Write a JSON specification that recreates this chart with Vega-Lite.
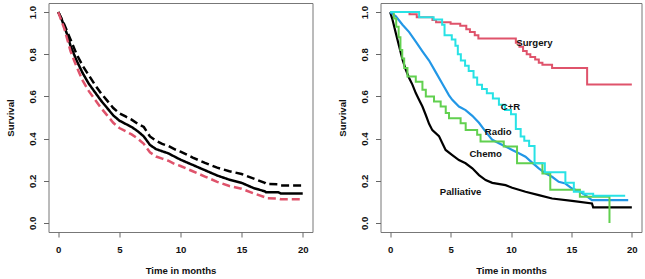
{
  "$schema": "https://vega.github.io/schema/vega-lite/v6.json",
  "padding": {"left": 4.5, "top": 2, "right": 3, "bottom": 0},
  "background": "white",
  "bounds": "flush",
  "spacing": 68,
  "resolve": {"scale": {"color": "independent", "strokeDash": "independent"}},
  "datasets": {
    "overall": [
      {"t": 0, "s": 1.0, "curve": "Estimate"}, {"t": 0.25, "s": 0.97, "curve": "Estimate"}, {"t": 0.5, "s": 0.93, "curve": "Estimate"}, {"t": 0.75, "s": 0.89, "curve": "Estimate"}, {"t": 1, "s": 0.84, "curve": "Estimate"}, {"t": 1.5, "s": 0.77, "curve": "Estimate"}, {"t": 2, "s": 0.71, "curve": "Estimate"}, {"t": 2.5, "s": 0.66, "curve": "Estimate"}, {"t": 3, "s": 0.62, "curve": "Estimate"}, {"t": 3.5, "s": 0.58, "curve": "Estimate"}, {"t": 4, "s": 0.545, "curve": "Estimate"}, {"t": 4.5, "s": 0.51, "curve": "Estimate"}, {"t": 5, "s": 0.485, "curve": "Estimate"}, {"t": 5.5, "s": 0.47, "curve": "Estimate"}, {"t": 6, "s": 0.455, "curve": "Estimate"}, {"t": 6.5, "s": 0.435, "curve": "Estimate"}, {"t": 7, "s": 0.41, "curve": "Estimate"}, {"t": 7.5, "s": 0.37, "curve": "Estimate"}, {"t": 8, "s": 0.35, "curve": "Estimate"}, {"t": 8.5, "s": 0.34, "curve": "Estimate"}, {"t": 9, "s": 0.33, "curve": "Estimate"}, {"t": 9.5, "s": 0.315, "curve": "Estimate"}, {"t": 10, "s": 0.3, "curve": "Estimate"}, {"t": 11, "s": 0.275, "curve": "Estimate"}, {"t": 12, "s": 0.25, "curve": "Estimate"}, {"t": 13, "s": 0.225, "curve": "Estimate"}, {"t": 14, "s": 0.205, "curve": "Estimate"}, {"t": 15, "s": 0.19, "curve": "Estimate"}, {"t": 16, "s": 0.165, "curve": "Estimate"}, {"t": 16.9, "s": 0.15, "curve": "Estimate"}, {"t": 17, "s": 0.145, "curve": "Estimate"}, {"t": 18, "s": 0.145, "curve": "Estimate"}, {"t": 18.2, "s": 0.14, "curve": "Estimate"}, {"t": 20, "s": 0.14, "curve": "Estimate"},
      {"t": 0, "s": 1.0, "curve": "Upper"}, {"t": 0.5, "s": 0.94, "curve": "Upper"}, {"t": 1, "s": 0.87, "curve": "Upper"}, {"t": 1.5, "s": 0.8, "curve": "Upper"}, {"t": 2, "s": 0.745, "curve": "Upper"}, {"t": 2.5, "s": 0.7, "curve": "Upper"}, {"t": 3, "s": 0.655, "curve": "Upper"}, {"t": 3.5, "s": 0.615, "curve": "Upper"}, {"t": 4, "s": 0.58, "curve": "Upper"}, {"t": 4.5, "s": 0.545, "curve": "Upper"}, {"t": 5, "s": 0.52, "curve": "Upper"}, {"t": 5.5, "s": 0.505, "curve": "Upper"}, {"t": 6, "s": 0.49, "curve": "Upper"}, {"t": 6.5, "s": 0.47, "curve": "Upper"}, {"t": 7, "s": 0.455, "curve": "Upper"}, {"t": 7.5, "s": 0.41, "curve": "Upper"}, {"t": 8, "s": 0.39, "curve": "Upper"}, {"t": 8.5, "s": 0.375, "curve": "Upper"}, {"t": 9, "s": 0.365, "curve": "Upper"}, {"t": 9.5, "s": 0.35, "curve": "Upper"}, {"t": 10, "s": 0.338, "curve": "Upper"}, {"t": 11, "s": 0.31, "curve": "Upper"}, {"t": 12, "s": 0.285, "curve": "Upper"}, {"t": 13, "s": 0.262, "curve": "Upper"}, {"t": 14, "s": 0.245, "curve": "Upper"}, {"t": 15, "s": 0.232, "curve": "Upper"}, {"t": 16, "s": 0.21, "curve": "Upper"}, {"t": 16.9, "s": 0.19, "curve": "Upper"}, {"t": 17, "s": 0.185, "curve": "Upper"}, {"t": 18, "s": 0.183, "curve": "Upper"}, {"t": 18.2, "s": 0.178, "curve": "Upper"}, {"t": 20, "s": 0.178, "curve": "Upper"},
      {"t": 0, "s": 1.0, "curve": "Lower"}, {"t": 0.5, "s": 0.92, "curve": "Lower"}, {"t": 1, "s": 0.815, "curve": "Lower"}, {"t": 1.5, "s": 0.74, "curve": "Lower"}, {"t": 2, "s": 0.675, "curve": "Lower"}, {"t": 2.5, "s": 0.625, "curve": "Lower"}, {"t": 3, "s": 0.585, "curve": "Lower"}, {"t": 3.5, "s": 0.545, "curve": "Lower"}, {"t": 4, "s": 0.51, "curve": "Lower"}, {"t": 4.5, "s": 0.475, "curve": "Lower"}, {"t": 5, "s": 0.45, "curve": "Lower"}, {"t": 5.5, "s": 0.435, "curve": "Lower"}, {"t": 6, "s": 0.42, "curve": "Lower"}, {"t": 6.5, "s": 0.4, "curve": "Lower"}, {"t": 7, "s": 0.375, "curve": "Lower"}, {"t": 7.5, "s": 0.335, "curve": "Lower"}, {"t": 8, "s": 0.315, "curve": "Lower"}, {"t": 8.5, "s": 0.305, "curve": "Lower"}, {"t": 9, "s": 0.295, "curve": "Lower"}, {"t": 9.5, "s": 0.28, "curve": "Lower"}, {"t": 10, "s": 0.27, "curve": "Lower"}, {"t": 11, "s": 0.245, "curve": "Lower"}, {"t": 12, "s": 0.22, "curve": "Lower"}, {"t": 13, "s": 0.195, "curve": "Lower"}, {"t": 14, "s": 0.175, "curve": "Lower"}, {"t": 15, "s": 0.162, "curve": "Lower"}, {"t": 16, "s": 0.14, "curve": "Lower"}, {"t": 16.9, "s": 0.122, "curve": "Lower"}, {"t": 17, "s": 0.117, "curve": "Lower"}, {"t": 18, "s": 0.115, "curve": "Lower"}, {"t": 18.2, "s": 0.112, "curve": "Lower"}, {"t": 20, "s": 0.112, "curve": "Lower"}
    ],
    "smooth": [
      {"t": 0, "s": 1.0, "group": "Palliative"}, {"t": 0.19, "s": 0.965, "group": "Palliative"}, {"t": 0.47, "s": 0.9, "group": "Palliative"}, {"t": 0.74, "s": 0.838, "group": "Palliative"}, {"t": 1.02, "s": 0.775, "group": "Palliative"}, {"t": 1.29, "s": 0.727, "group": "Palliative"}, {"t": 1.57, "s": 0.687, "group": "Palliative"}, {"t": 1.84, "s": 0.656, "group": "Palliative"}, {"t": 2.12, "s": 0.616, "group": "Palliative"}, {"t": 2.39, "s": 0.584, "group": "Palliative"}, {"t": 2.67, "s": 0.552, "group": "Palliative"}, {"t": 2.94, "s": 0.513, "group": "Palliative"}, {"t": 3.22, "s": 0.47, "group": "Palliative"}, {"t": 3.49, "s": 0.44, "group": "Palliative"}, {"t": 4.04, "s": 0.412, "group": "Palliative"}, {"t": 4.32, "s": 0.378, "group": "Palliative"}, {"t": 4.59, "s": 0.346, "group": "Palliative"}, {"t": 5.14, "s": 0.322, "group": "Palliative"}, {"t": 5.69, "s": 0.298, "group": "Palliative"}, {"t": 6.24, "s": 0.283, "group": "Palliative"}, {"t": 6.8, "s": 0.259, "group": "Palliative"}, {"t": 7.35, "s": 0.227, "group": "Palliative"}, {"t": 7.9, "s": 0.203, "group": "Palliative"}, {"t": 8.45, "s": 0.19, "group": "Palliative"}, {"t": 9.55, "s": 0.179, "group": "Palliative"}, {"t": 10.1, "s": 0.167, "group": "Palliative"}, {"t": 11.2, "s": 0.148, "group": "Palliative"}, {"t": 12.3, "s": 0.132, "group": "Palliative"}, {"t": 13.4, "s": 0.116, "group": "Palliative"}, {"t": 15.05, "s": 0.105, "group": "Palliative"}, {"t": 16.7, "s": 0.092, "group": "Palliative"}, {"t": 16.8, "s": 0.074, "group": "Palliative"}, {"t": 20, "s": 0.074, "group": "Palliative"},
      {"t": 0, "s": 1.0, "group": "Radio"}, {"t": 0.47, "s": 0.98, "group": "Radio"}, {"t": 1.02, "s": 0.94, "group": "Radio"}, {"t": 1.57, "s": 0.905, "group": "Radio"}, {"t": 2.12, "s": 0.86, "group": "Radio"}, {"t": 2.67, "s": 0.814, "group": "Radio"}, {"t": 3.22, "s": 0.77, "group": "Radio"}, {"t": 3.77, "s": 0.715, "group": "Radio"}, {"t": 4.32, "s": 0.66, "group": "Radio"}, {"t": 4.87, "s": 0.605, "group": "Radio"}, {"t": 5.14, "s": 0.584, "group": "Radio"}, {"t": 5.69, "s": 0.552, "group": "Radio"}, {"t": 6.24, "s": 0.535, "group": "Radio"}, {"t": 6.8, "s": 0.508, "group": "Radio"}, {"t": 7.35, "s": 0.475, "group": "Radio"}, {"t": 7.9, "s": 0.433, "group": "Radio"}, {"t": 8.45, "s": 0.394, "group": "Radio"}, {"t": 9.0, "s": 0.378, "group": "Radio"}, {"t": 9.55, "s": 0.362, "group": "Radio"}, {"t": 10.1, "s": 0.346, "group": "Radio"}, {"t": 10.65, "s": 0.33, "group": "Radio"}, {"t": 11.2, "s": 0.314, "group": "Radio"}, {"t": 11.75, "s": 0.286, "group": "Radio"}, {"t": 12.3, "s": 0.259, "group": "Radio"}, {"t": 12.85, "s": 0.235, "group": "Radio"}, {"t": 13.4, "s": 0.219, "group": "Radio"}, {"t": 13.95, "s": 0.195, "group": "Radio"}, {"t": 14.5, "s": 0.187, "group": "Radio"}, {"t": 15.05, "s": 0.163, "group": "Radio"}, {"t": 15.6, "s": 0.152, "group": "Radio"}, {"t": 16.15, "s": 0.132, "group": "Radio"}, {"t": 16.7, "s": 0.108, "group": "Radio"}, {"t": 19.7, "s": 0.108, "group": "Radio"}
    ],
    "steps": [
      {"t": 0, "s": 1.0, "group": "Surgery"}, {"t": 1.6, "s": 0.99, "group": "Surgery"}, {"t": 2.2, "s": 0.975, "group": "Surgery"}, {"t": 3.5, "s": 0.962, "group": "Surgery"}, {"t": 3.8, "s": 0.952, "group": "Surgery"}, {"t": 5.0, "s": 0.945, "group": "Surgery"}, {"t": 5.8, "s": 0.935, "group": "Surgery"}, {"t": 6.3, "s": 0.918, "group": "Surgery"}, {"t": 6.6, "s": 0.905, "group": "Surgery"}, {"t": 7.0, "s": 0.89, "group": "Surgery"}, {"t": 7.3, "s": 0.875, "group": "Surgery"}, {"t": 10.4, "s": 0.855, "group": "Surgery"}, {"t": 10.7, "s": 0.835, "group": "Surgery"}, {"t": 11.0, "s": 0.815, "group": "Surgery"}, {"t": 11.3, "s": 0.8, "group": "Surgery"}, {"t": 11.6, "s": 0.787, "group": "Surgery"}, {"t": 12.0, "s": 0.775, "group": "Surgery"}, {"t": 12.3, "s": 0.76, "group": "Surgery"}, {"t": 12.6, "s": 0.75, "group": "Surgery"}, {"t": 13.4, "s": 0.735, "group": "Surgery"}, {"t": 16.3, "s": 0.656, "group": "Surgery"}, {"t": 20.0, "s": 0.656, "group": "Surgery"},
      {"t": 0, "s": 1.0, "group": "Chemo"}, {"t": 0.3, "s": 0.97, "group": "Chemo"}, {"t": 0.5, "s": 0.93, "group": "Chemo"}, {"t": 0.7, "s": 0.88, "group": "Chemo"}, {"t": 0.85, "s": 0.82, "group": "Chemo"}, {"t": 1.0, "s": 0.78, "group": "Chemo"}, {"t": 1.16, "s": 0.735, "group": "Chemo"}, {"t": 1.43, "s": 0.695, "group": "Chemo"}, {"t": 2.12, "s": 0.67, "group": "Chemo"}, {"t": 2.67, "s": 0.632, "group": "Chemo"}, {"t": 2.95, "s": 0.6, "group": "Chemo"}, {"t": 3.63, "s": 0.576, "group": "Chemo"}, {"t": 4.18, "s": 0.552, "group": "Chemo"}, {"t": 4.6, "s": 0.521, "group": "Chemo"}, {"t": 4.87, "s": 0.497, "group": "Chemo"}, {"t": 5.83, "s": 0.473, "group": "Chemo"}, {"t": 6.25, "s": 0.441, "group": "Chemo"}, {"t": 7.2, "s": 0.418, "group": "Chemo"}, {"t": 7.48, "s": 0.386, "group": "Chemo"}, {"t": 9.4, "s": 0.362, "group": "Chemo"}, {"t": 10.5, "s": 0.283, "group": "Chemo"}, {"t": 12.6, "s": 0.235, "group": "Chemo"}, {"t": 13.25, "s": 0.157, "group": "Chemo"}, {"t": 15.7, "s": 0.124, "group": "Chemo"}, {"t": 18.15, "s": 0.0, "group": "Chemo"},
      {"t": 0, "s": 1.0, "group": "C+R"}, {"t": 2.4, "s": 0.975, "group": "C+R"}, {"t": 3.6, "s": 0.965, "group": "C+R"}, {"t": 4.3, "s": 0.94, "group": "C+R"}, {"t": 4.5, "s": 0.89, "group": "C+R"}, {"t": 5.1, "s": 0.87, "group": "C+R"}, {"t": 5.4, "s": 0.84, "group": "C+R"}, {"t": 5.6, "s": 0.8, "group": "C+R"}, {"t": 5.85, "s": 0.77, "group": "C+R"}, {"t": 6.2, "s": 0.745, "group": "C+R"}, {"t": 6.5, "s": 0.72, "group": "C+R"}, {"t": 6.9, "s": 0.69, "group": "C+R"}, {"t": 7.2, "s": 0.655, "group": "C+R"}, {"t": 7.6, "s": 0.635, "group": "C+R"}, {"t": 8.0, "s": 0.615, "group": "C+R"}, {"t": 8.5, "s": 0.59, "group": "C+R"}, {"t": 9.0, "s": 0.56, "group": "C+R"}, {"t": 9.5, "s": 0.535, "group": "C+R"}, {"t": 10.0, "s": 0.515, "group": "C+R"}, {"t": 10.4, "s": 0.445, "group": "C+R"}, {"t": 10.8, "s": 0.41, "group": "C+R"}, {"t": 11.1, "s": 0.39, "group": "C+R"}, {"t": 11.5, "s": 0.365, "group": "C+R"}, {"t": 11.95, "s": 0.283, "group": "C+R"}, {"t": 12.8, "s": 0.24, "group": "C+R"}, {"t": 14.5, "s": 0.19, "group": "C+R"}, {"t": 15.2, "s": 0.148, "group": "C+R"}, {"t": 16.0, "s": 0.138, "group": "C+R"}, {"t": 16.8, "s": 0.129, "group": "C+R"}, {"t": 19.45, "s": 0.129, "group": "C+R"}
    ],
    "labels": [
      {"t": 11.94, "s": 0.851, "label": "Surgery"},
      {"t": 9.96, "s": 0.55, "label": "C+R"},
      {"t": 8.94, "s": 0.429, "label": "Radio"},
      {"t": 7.9, "s": 0.327, "label": "Chemo"},
      {"t": 5.83, "s": 0.146, "label": "Palliative"}
    ]
  },
  "hconcat": [
    {
      "width": 264,
      "height": 229,
      "data": {"name": "overall"},
      "mark": {"type": "line", "strokeWidth": 2.5},
      "encoding": {
        "x": {"field": "t", "type": "quantitative", "scale": {"domain": [-0.8, 20.8], "nice": false, "zero": false},
              "axis": {"values": [0, 5, 10, 15, 20], "title": "Time in months"}},
        "y": {"field": "s", "type": "quantitative", "scale": {"domain": [-0.043, 1.043], "nice": false, "zero": false},
              "axis": {"values": [0, 0.2, 0.4, 0.6, 0.8, 1.0], "format": ".1f", "title": "Survival", "labelAngle": 270, "labelPadding": 6, "titlePadding": 12.5}},
        "color": {"field": "curve", "type": "nominal", "scale": {"domain": ["Estimate", "Upper", "Lower"], "range": ["#000000", "#000000", "#DF536B"]}, "legend": null},
        "strokeDash": {"field": "curve", "type": "nominal", "scale": {"domain": ["Estimate", "Upper", "Lower"], "range": [[1, 0], [8, 4], [8, 4]]}, "legend": null}
      }
    },
    {
      "width": 261,
      "height": 229,
      "encoding": {
        "x": {"field": "t", "type": "quantitative", "scale": {"domain": [-0.8, 20.8], "nice": false, "zero": false},
              "axis": {"values": [0, 5, 10, 15, 20], "title": "Time in months"}},
        "y": {"field": "s", "type": "quantitative", "scale": {"domain": [-0.043, 1.043], "nice": false, "zero": false},
              "axis": {"values": [0, 0.2, 0.4, 0.6, 0.8, 1.0], "format": ".1f", "title": "Survival", "labelAngle": 270, "labelPadding": 6, "titlePadding": 12.5}}
      },
      "layer": [
        {
          "data": {"name": "smooth"},
          "mark": {"type": "line", "strokeWidth": 2.2},
          "encoding": {
            "color": {"field": "group", "type": "nominal", "scale": {"domain": ["Palliative", "Surgery", "Chemo", "Radio", "C+R"], "range": ["#000000", "#DF536B", "#61D04F", "#2297E6", "#28E2E5"]}, "legend": null}
          }
        },
        {
          "data": {"name": "steps"},
          "mark": {"type": "line", "strokeWidth": 2, "interpolate": "step-after"},
          "encoding": {
            "color": {"field": "group", "type": "nominal", "scale": {"domain": ["Palliative", "Surgery", "Chemo", "Radio", "C+R"], "range": ["#000000", "#DF536B", "#61D04F", "#2297E6", "#28E2E5"]}, "legend": null}
          }
        },
        {
          "data": {"name": "labels"},
          "mark": {"type": "text", "font": "Liberation Sans", "fontWeight": "bold", "fontSize": 9.6, "color": "#111111"},
          "encoding": {"text": {"field": "label", "type": "nominal"}}
        }
      ]
    }
  ],
  "config": {
    "view": {"stroke": "#777777", "strokeWidth": 1},
    "axis": {
      "grid": false,
      "domain": false,
      "ticks": true,
      "tickSize": 5,
      "tickColor": "#666666",
      "labelFont": "Liberation Sans",
      "labelFontWeight": "bold",
      "labelFontSize": 9.6,
      "labelColor": "#111111",
      "titleFont": "Liberation Sans",
      "titleFontWeight": "bold",
      "titleFontSize": 9.6,
      "titleColor": "#111111"
    },
    "axisX": {"labelPadding": 7, "titlePadding": 12}
  }
}
